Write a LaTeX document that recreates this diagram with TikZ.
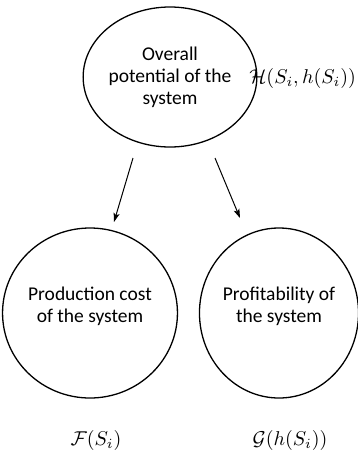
\documentclass[tikz,border=0pt]{standalone}
\usepackage[no-math]{fontspec}
\setmainfont{Carlito}
\usetikzlibrary{shapes.geometric,arrows.meta}
\begin{document}
\begin{tikzpicture}[x=1pt,y=-1pt,
  bubble/.style={draw,ellipse,line width=1.3pt,inner sep=0pt,align=center,
    font=\fontsize{19.5}{22}\selectfont},
  mathlbl/.style={inner sep=0pt,scale=2},
  conn/.style={line width=1pt,-{Stealth[length=9pt,width=6pt,inset=2pt]}}]
\useasboundingbox (0,0) rectangle (357,459);
\node[bubble,minimum width=156pt,minimum height=140pt] (top) at (170,77) {Overall\\potential of the\\system};
\node[bubble,minimum width=154pt,minimum height=170pt] (left) at (90,313) {Production cost\\of the system\\[-6pt]};
\node[bubble,minimum width=154pt,minimum height=170pt] (right) at (279,313) {Profitability of\\the system\\[-6pt]};
\node[mathlbl,anchor=west] (hlbl) at (249,78) {$\mathcal{H}(S_i,h(S_i))$};
\node[mathlbl] (flbl) at (96,440) {$\mathcal{F}(S_i)$};
\node[mathlbl] (glbl) at (290,440) {$\mathcal{G}(h(S_i))$};
\coordinate (a1) at (133,158);
\coordinate (a2) at (114,222);
\coordinate (b1) at (215,158);
\coordinate (b2) at (240,218);
\draw[conn] (a1) -- (a2);
\draw[conn] (b1) -- (b2);
\end{tikzpicture}
\end{document}
